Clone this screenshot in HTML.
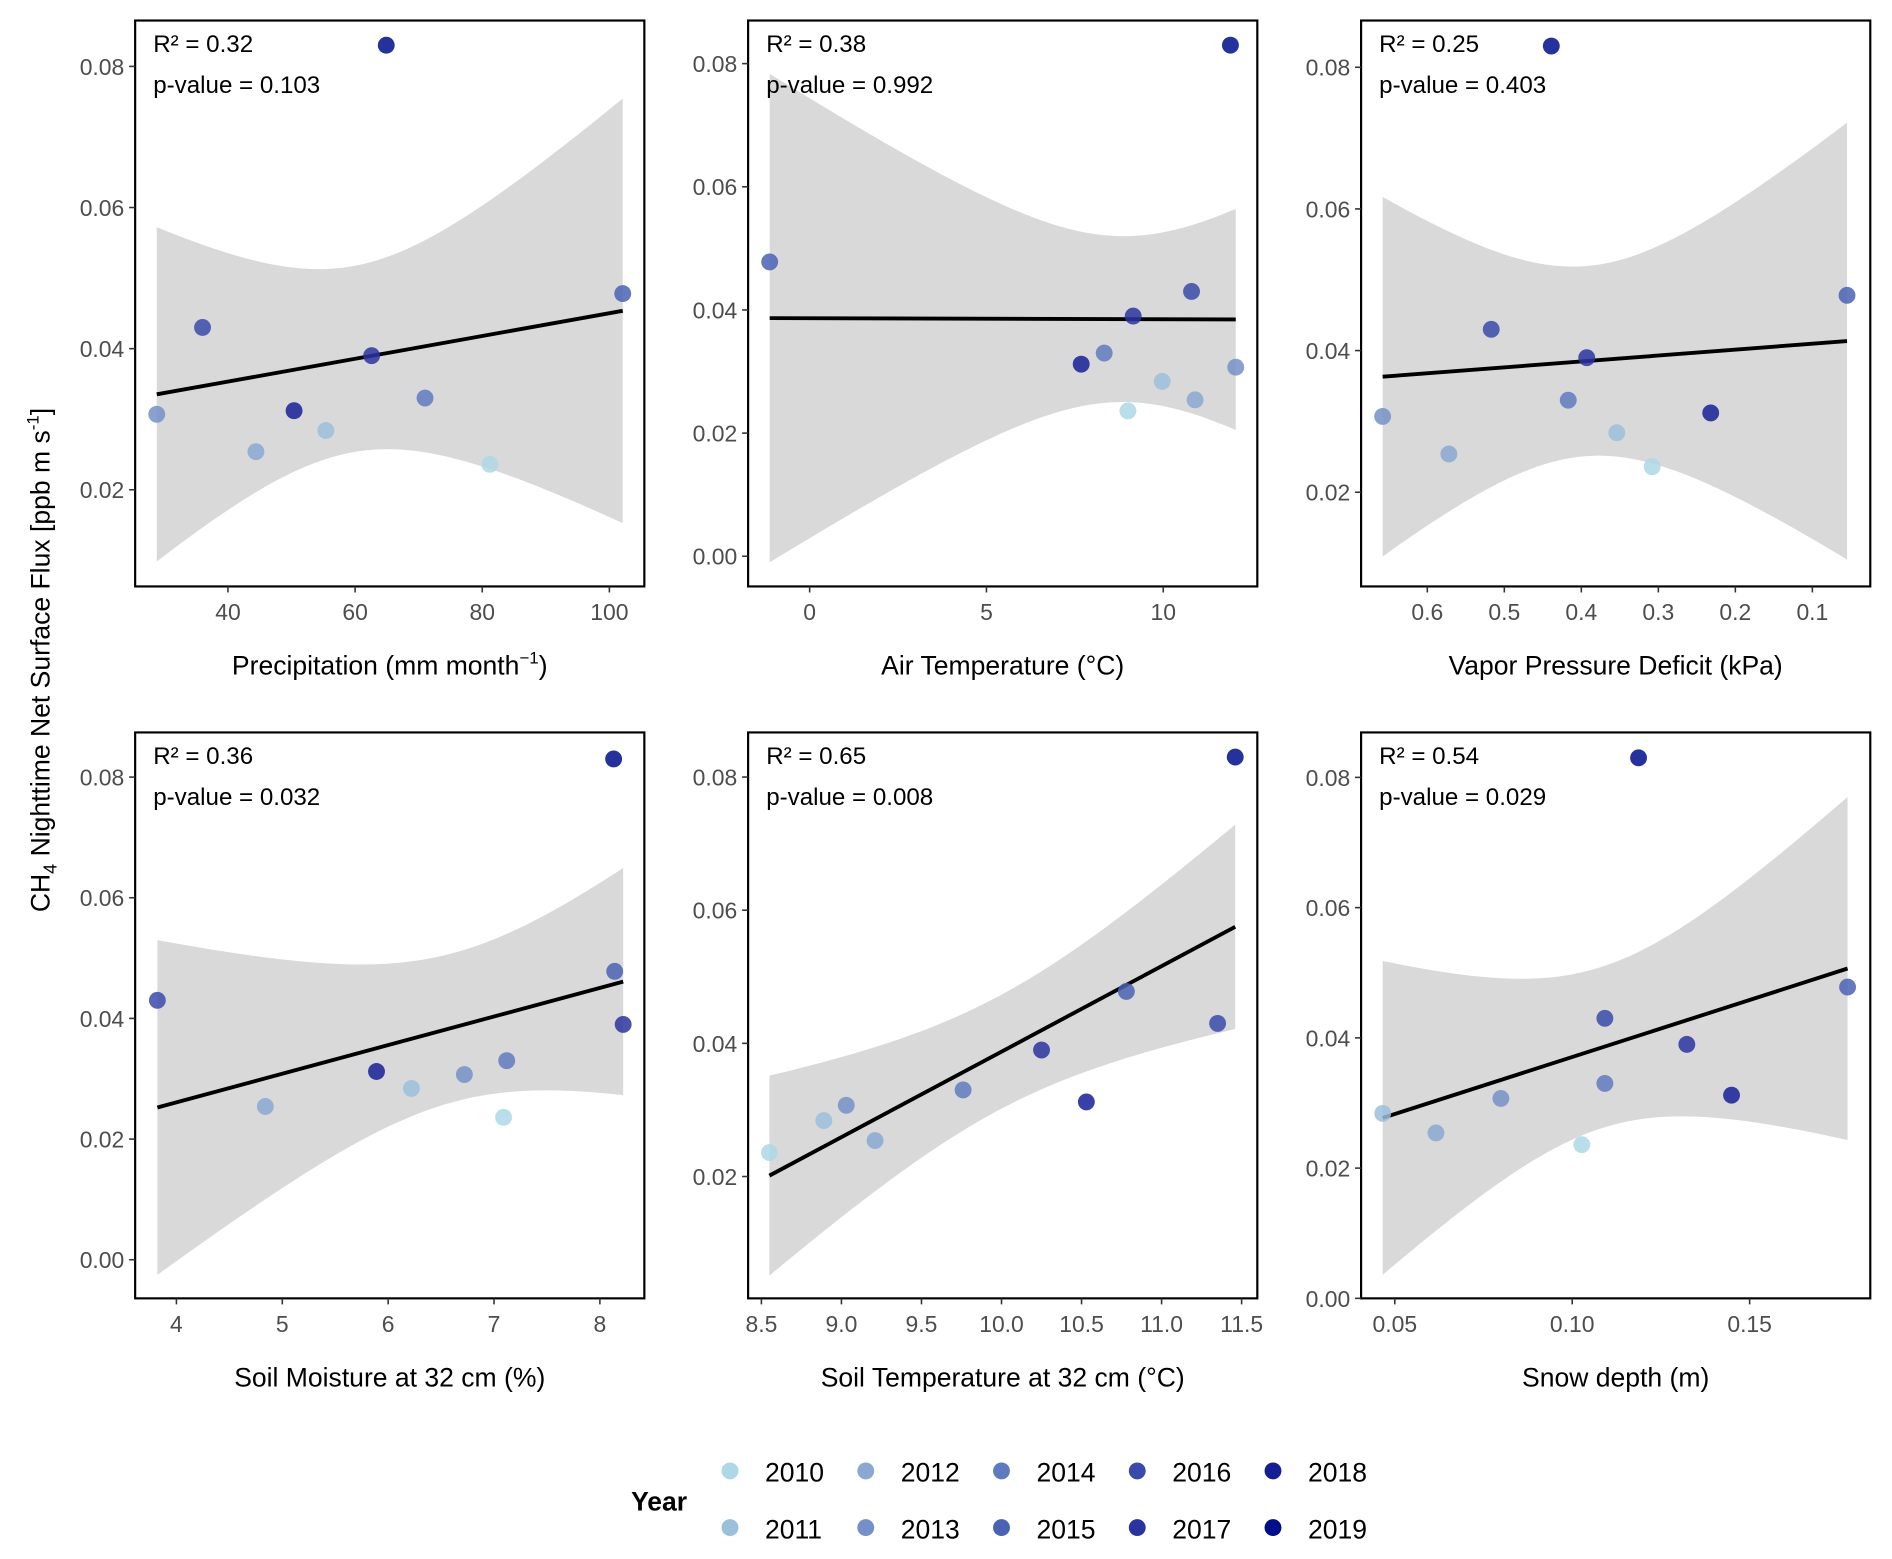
<!DOCTYPE html>
<html><head><meta charset="utf-8"><style>
html,body{margin:0;padding:0;background:#fff;}
svg{display:block;font-family:"Liberation Sans",Arial,sans-serif;}
</style></head><body>
<svg id="chart" width="1892" height="1559" viewBox="0 0 1568 1292" xmlns="http://www.w3.org/2000/svg">
<defs id="defs"></defs>
<g id="root"></g>
</svg>
<script>
// ---- data ----
const years = [2010,2011,2012,2013,2014,2015,2016,2017,2018,2019];
const yearColors = ["#add8e6","#9bc0da","#8aa8d2","#7590c8","#5f7abf","#4a62b4","#3a4aaa","#2a34a0","#161e96","#000e8a"];
const flux = [0.0236,0.0284,0.0254,0.0307,0.0330,0.0478,0.0430,0.0390,0.0312,0.0830];
const precip = [81.2,55.4,44.4,28.8,71.0,102.1,36.0,62.6,50.4,64.9];
const airTemp = [9.0,9.97,10.9,12.05,8.33,-1.13,10.8,9.15,7.68,11.9];
const vpd = [0.308,0.354,0.572,0.658,0.417,0.055,0.517,0.393,0.232,0.439];
const soilMoist = [7.09,6.22,4.84,6.72,7.12,8.14,3.82,8.22,5.89,8.13];
const soilTemp = [8.55,8.89,9.21,9.03,9.76,10.78,11.35,10.25,10.53,11.46];
const snow = [0.1027,0.0466,0.0616,0.0799,0.1092,0.1776,0.1092,0.1323,0.1449,0.1187];
const r2Labels = ["R² = 0.32","R² = 0.38","R² = 0.25","R² = 0.36","R² = 0.65","R² = 0.54"];
const pLabels = ["p-value = 0.103","p-value = 0.992","p-value = 0.403","p-value = 0.032","p-value = 0.008","p-value = 0.029"];
const xTicks1 = [40,60,80,100];
const xTicks2 = [0,5,10];
const xTicks3 = [0.6,0.5,0.4,0.3,0.2,0.1];
const xTicks4 = [4,5,6,7,8];
const xTicks5 = [8.5,9.0,9.5,10.0,10.5,11.0,11.5];
const xTicks6 = [0.05,0.10,0.15];
const yTicksA = [0.02,0.04,0.06,0.08];
const yTicksB = [0.00,0.02,0.04,0.06,0.08];

const NS="http://www.w3.org/2000/svg";
const root=document.getElementById('root');
const defs=document.getElementById('defs');
function mk(tag,attrs,parent){const e=document.createElementNS(NS,tag);for(const k in attrs)e.setAttribute(k,attrs[k]);(parent||root).appendChild(e);return e;}

const panels=[
 {id:'precipitation',x:precip,box:[112,17,534,486],xd:[25.4,105.5],yd:[0.0063,0.0865],xt:xTicks1,yt:yTicksA,fmt:v=>v.toFixed(0),title:'Precipitation (mm month<tspan dy="-9" font-size="14">−1</tspan><tspan dy="9">)</tspan>',dec:2},
 {id:'air-temperature',x:airTemp,box:[620,17,1042,486],xd:[-1.74,12.66],yd:[-0.0049,0.087],xt:xTicks2,yt:yTicksB,fmt:v=>v.toFixed(0),title:'Air Temperature (°C)'},
 {id:'vpd',x:vpd,box:[1128,17,1550,486],xd:[0.686,0.0248],yd:[0.0067,0.0866],xt:xTicks3,yt:yTicksA,fmt:v=>v.toFixed(1),title:'Vapor Pressure Deficit (kPa)'},
 {id:'soil-moisture',x:soilMoist,box:[112,607,534,1076],xd:[3.61,8.42],yd:[-0.0064,0.0874],xt:xTicks4,yt:yTicksB,fmt:v=>v.toFixed(0),title:'Soil Moisture at 32 cm (%)'},
 {id:'soil-temperature',x:soilTemp,box:[620,607,1042,1076],xd:[8.417,11.598],yd:[0.0017,0.0867],xt:xTicks5,yt:yTicksA,fmt:v=>v.toFixed(1),title:'Soil Temperature at 32 cm (°C)'},
 {id:'snow-depth',x:snow,box:[1128,607,1550,1076],xd:[0.0405,0.184],yd:[0.0,0.0869],xt:xTicks6,yt:yTicksB,fmt:v=>v.toFixed(2),title:'Snow depth (m)'}
];

panels.forEach((p,pi)=>{
  const [x0,y0,x1,y1]=p.box;
  const sx=v=>x0+(v-p.xd[0])/(p.xd[1]-p.xd[0])*(x1-x0);
  const sy=v=>y1-(v-p.yd[0])/(p.yd[1]-p.yd[0])*(y1-y0);
  const g=mk('g',{});
  
  
  const cp=mk('clipPath',{id:'clip'+pi},defs);
  mk('rect',{x:x0,y:y0,width:x1-x0,height:y1-y0},cp);
  // regression
  const n=flux.length;
  const mx=p.x.reduce((a,b)=>a+b,0)/n, my=flux.reduce((a,b)=>a+b,0)/n;
  let sxx=0,sxy=0;for(let i=0;i<n;i++){sxx+=(p.x[i]-mx)**2;sxy+=(p.x[i]-mx)*(flux[i]-my);}
  const b=sxy/sxx,a=my-b*mx;
  let sse=0;for(let i=0;i<n;i++)sse+=(flux[i]-a-b*p.x[i])**2;
  const s=Math.sqrt(sse/(n-2)),t=2.306;
  const xmin=Math.min(...p.x),xmax=Math.max(...p.x);
  const up=[],lo=[];
  for(let k=0;k<=80;k++){const xv=xmin+(xmax-xmin)*k/80;const f=a+b*xv;const se=s*Math.sqrt(1/n+(xv-mx)**2/sxx);
    up.push(sx(xv).toFixed(2)+','+sy(f+t*se).toFixed(2));lo.unshift(sx(xv).toFixed(2)+','+sy(f-t*se).toFixed(2));}
  const band=mk('polygon',{points:up.concat(lo).join(' '),fill:'#d9d9d9','clip-path':'url(#clip'+pi+')'},g);
  
  
  const line=mk('line',{x1:sx(xmin),y1:sy(a+b*xmin),x2:sx(xmax),y2:sy(a+b*xmax),stroke:'#000','stroke-width':3.2,'clip-path':'url(#clip'+pi+')'},g);
  
  
  for(let i=0;i<n;i++){
    const c=mk('circle',{cx:sx(p.x[i]),cy:sy(flux[i]),r:7,fill:yearColors[i],'fill-opacity':0.85},g);
    
    
  }
  const fr=mk('rect',{x:x0,y:y0,width:x1-x0,height:y1-y0,fill:'none',stroke:'#000','stroke-width':1.8},g);
  
  
  p.yt.forEach(v=>{const y=sy(v);
    mk('line',{x1:x0-5,x2:x0,y1:y,y2:y,stroke:'#333','stroke-width':1.3},g);
    const tx=mk('text',{x:x0-9,y:y+7,'text-anchor':'end','font-size':19,fill:'#4d4d4d'},g);tx.textContent=v.toFixed(2);
    
    });
  p.xt.forEach(v=>{const x=sx(v);
    mk('line',{x1:x,x2:x,y1:y1,y2:y1+5,stroke:'#333','stroke-width':1.3},g);
    const tx=mk('text',{x:x,y:y1+28,'text-anchor':'middle','font-size':19,fill:'#4d4d4d'},g);tx.textContent=p.fmt(v);
    
    });
  const r=mk('text',{x:x0+15,y:y0+26,'font-size':20,fill:'#000'},g);r.textContent=r2Labels[pi];
  
  
  const pv=mk('text',{x:x0+15,y:y0+60,'font-size':20,fill:'#000'},g);pv.textContent=pLabels[pi];
  
  
  const at=mk('text',{x:(x0+x1)/2,y:y1+73,'text-anchor':'middle','font-size':22,fill:'#000'},g);at.innerHTML=p.title;
  
  
});
// y title
const yt=mk('text',{transform:'translate(41,547) rotate(-90)','text-anchor':'middle','font-size':22,fill:'#000'});
yt.innerHTML='CH<tspan dy="6" font-size="15">4</tspan><tspan dy="-6"> Nighttime Net Surface Flux [ppb m s</tspan><tspan dy="-9" font-size="14">-1</tspan><tspan dy="9">]</tspan>';


// legend
const lg=mk('g',{});


const lt=mk('text',{x:523,y:1252,'font-size':22,'font-weight':'bold',fill:'#000'},lg);lt.textContent='Year';


years.forEach((yr,i)=>{
  const col=Math.floor(i/2),row=i%2;
  const x=605+col*112.5,y=1219+row*47;
  const e=mk('g',{},lg);
  
  
  mk('circle',{cx:x,cy:y,r:7,fill:yearColors[i]},e);
  const t=mk('text',{x:x+29,y:y+9,'font-size':22,fill:'#000'},e);t.textContent=yr;
});
</script>
</body></html>
